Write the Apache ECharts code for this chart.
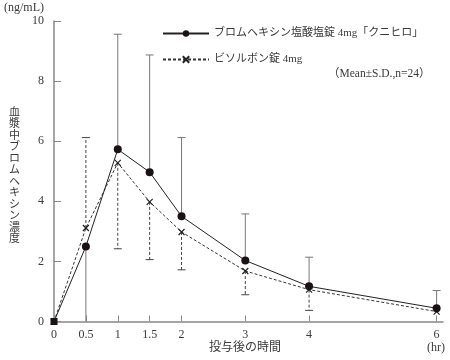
<!DOCTYPE html>
<html><head><meta charset="utf-8">
<script src="https://cdn.jsdelivr.net/npm/echarts@6/dist/echarts.min.js"></script>
<style>html,body{margin:0;padding:0;background:#fff}#c{width:450px;height:360px}</style>
</head><body><div id="c"></div>
<script>
var times = [0, 0.5, 1, 1.5, 2, 3, 4, 6];
var xTicks = [0, 0.5, 1, 1.5, 2, 3, 4, 6];
var yTicks = [0, 2, 4, 6, 8, 10];
var nameA = 'ブロムヘキシン塩酸塩錠 4mg「クニヒロ」';
var nameB = 'ビソルボン錠 4mg';
var meanA = [0, 2.50, 5.73, 4.97, 3.50, 2.03, 1.17, 0.44];
var sdA   = [0, 2.60, 3.83, 3.90, 2.62, 1.55, 0.97, 0.59];
var dirA  = [0, -1, 1, 1, 1, 1, 1, 1];
var meanB = [0, 3.11, 5.28, 3.98, 2.98, 1.68, 1.06, 0.33];
var sdB   = [0, 3.01, 2.86, 1.92, 1.26, 0.79, 0.69, 0];
var dirB  = [0, 1, -1, -1, -1, -1, -1, -1];
var yTitle = '血漿中ブロムヘキシン濃度';

var FONT = "'Liberation Serif','Noto Sans CJK JP',serif";
var TXT = '#3a3a3a';
var AX = '#888';
var crossPath = 'path://M0,0L10,10M10,0L0,10';

function pairs(m){ return times.map(function(t,i){ return [t, m[i]]; }); }
function errData(m, sd, dir){
  return times.map(function(t,i){ return [t, m[i], sd[i], dir[i]]; }).filter(function(d){ return d[2] > 0; });
}
function errRender(dash, color){
  return function(params, api){
    var x = api.value(0), m = api.value(1), sd = api.value(2), dir = api.value(3);
    var end = m + dir * sd;
    var clipped = false;
    if (end < 0) { end = 0; clipped = true; }
    var p0 = api.coord([x, m]);
    var p1 = api.coord([x, end]);
    var style = {stroke: color, lineWidth: 1, lineDash: dash};
    var children = [{type:'line', shape:{x1:p0[0], y1:p0[1], x2:p1[0], y2:p1[1]}, style: style}];
    if (!clipped) {
      children.push({type:'line', shape:{x1:p1[0]-4, y1:p1[1], x2:p1[0]+4, y2:p1[1]}, style:{stroke: color, lineWidth: 1}});
    }
    return {type:'group', children: children};
  };
}

var chart = echarts.init(document.getElementById('c'), null, {renderer:'canvas'});
var dataA = pairs(meanA);
dataA[0] = {value: dataA[0], symbol: 'rect', symbolSize: 7};

chart.setOption({
  animation: false,
  textStyle: {fontFamily: FONT, color: TXT},
  grid: {left: 54, right: 7, top: 21, bottom: 38.5},
  legend: {
    orient: 'vertical', left: 157, top: 23, itemWidth: 46, itemHeight: 8, itemGap: 15,
    textStyle: {fontFamily: FONT, fontSize: 11, color: TXT},
    data: [nameA, nameB]
  },
  xAxis: {
    type: 'value', min: 0, max: 6.1,
    axisLine: {lineStyle: {color: AX, width: 1.5}},
    axisTick: {inside: true, length: 6, lineStyle: {color: AX}, customValues: xTicks},
    axisLabel: {fontFamily: FONT, fontSize: 12, color: TXT, margin: 7, customValues: xTicks},
    splitLine: {show: false}
  },
  yAxis: {
    type: 'value', min: 0, max: 10, interval: 2,
    axisLine: {show: true, lineStyle: {color: AX, width: 1.5}},
    axisTick: {show: true, inside: true, length: 7, lineStyle: {color: AX}},
    axisLabel: {fontFamily: FONT, fontSize: 12, color: TXT, margin: 10},
    splitLine: {show: false}
  },
  graphic: [
    {type:'text', left: 4, top: 2, style:{text:'(ng/mL)', font: "12px " + FONT, fill: TXT}},
    {type:'text', left: 9, top: 107, style:{text: yTitle.split('').join('\n'), font: "11px " + FONT, fill: TXT, lineHeight: 11.5, align:'center'}},
    {type:'text', left: 209, top: 342, style:{text:'投与後の時間', font: "12px " + FONT, fill: TXT}},
    {type:'text', left: 427, top: 342, style:{text:'(hr)', font: "12px " + FONT, fill: TXT}},
    {type:'text', left: 328, top: 68, style:{text:'（Mean±S.D.,n=24）', font: "11.5px " + FONT, fill: TXT}}
  ],
  series: [
    {type:'custom', name:'errA', renderItem: errRender(null, '#777'), data: errData(meanA, sdA, dirA), z: 1, silent: true},
    {type:'custom', name:'errB', renderItem: errRender([3,2], '#444'), data: errData(meanB, sdB, dirB), z: 1, silent: true},
    {type:'line', name: nameB, data: pairs(meanB), symbol: crossPath, symbolSize: 6,
      lineStyle:{color:'#333', width:1, type:[3,2]}, itemStyle:{color:'#fff', borderColor:'#222', borderWidth:1.2}, z: 3},
    {type:'line', name: nameA, data: dataA, symbol:'circle', symbolSize: 8,
      lineStyle:{color:'#222', width:1}, itemStyle:{color:'#1a1212'}, z: 4}
  ]
});
</script></body></html>
